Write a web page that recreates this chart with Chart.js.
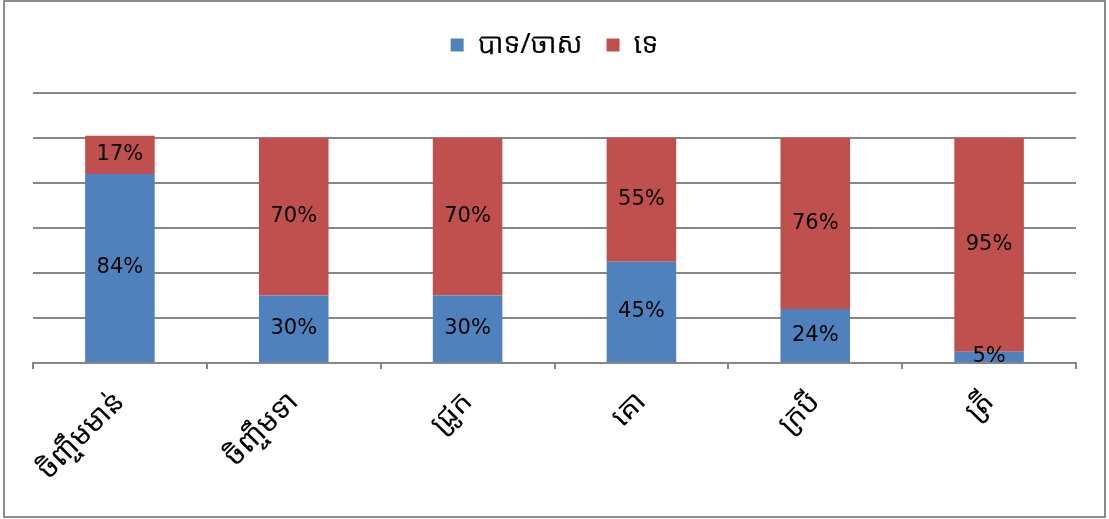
<!DOCTYPE html>
<html>
<head>
<meta charset="utf-8">
<script src="https://cdn.jsdelivr.net/npm/chart.js@4"></script>
<style>
  html, body { margin: 0; padding: 0; background: #ffffff; }
  #wrap { width: 1109px; height: 519px; position: relative; }
</style>
</head>
<body>
<div id="wrap"><canvas id="chart" width="1109" height="519"></canvas></div>
<script>
// Livestock categories (Khmer)
const categories = ['ចិញ្ចឹមមាន់', 'ចិញ្ចឹមទា', 'ជ្រូក', 'គោ', 'ក្របី', 'ត្រី'];
// Share of answers, percent
const yesValues = [84, 30, 30, 45, 24, 5];
const noValues = [17, 70, 70, 55, 76, 95];
const seriesNames = ['បាទ/ចាស', 'ទេ'];
const yTicks = [0, 20, 40, 60, 80, 100, 120];

const KHMER_FONT = '"Khmer OS", "Khmer OS System", "Noto Sans Khmer", "Khmer UI", "Noto Sans", "DejaVu Sans", sans-serif';
const GRID = '#868686';
const LEGEND_GAP = 24;

// Percent labels centred in each bar segment
const segmentLabels = {
  id: 'segmentLabels',
  afterDatasetsDraw(chart) {
    const ctx = chart.ctx;
    ctx.save();
    ctx.font = '21px "DejaVu Sans", sans-serif';
    ctx.fillStyle = '#000000';
    ctx.textAlign = 'center';
    ctx.textBaseline = 'middle';
    chart.data.datasets.forEach((ds, di) => {
      const meta = chart.getDatasetMeta(di);
      meta.data.forEach((bar, i) => {
        const p = bar.getProps(['x', 'y', 'base'], true);
        ctx.fillText(ds.data[i] + '%', p.x, (p.y + p.base) / 2);
      });
    });
    ctx.restore();
  }
};

// Extra space between the legend row and the plot area
const legendGap = {
  id: 'legendGap',
  beforeLayout(chart) {
    const lg = chart.legend;
    if (lg && !lg._gapAdded) {
      const fit = lg.fit.bind(lg);
      lg.fit = function () { fit(); this.height += LEGEND_GAP; };
      lg._gapAdded = true;
    }
  }
};

// Grey frame round the whole chart
const frame = {
  id: 'frame',
  afterDraw(chart) {
    const ctx = chart.ctx;
    ctx.save();
    ctx.strokeStyle = '#8c8c8c';
    ctx.lineWidth = 2;
    ctx.strokeRect(4, 1, 1101, 516);
    ctx.restore();
  }
};

new Chart(document.getElementById('chart'), {
  type: 'bar',
  data: {
    labels: categories,
    datasets: [
      { label: seriesNames[0], data: yesValues, backgroundColor: '#4F81BD', categoryPercentage: 1, barPercentage: 0.4 },
      { label: seriesNames[1], data: noValues, backgroundColor: '#C0504D', categoryPercentage: 1, barPercentage: 0.4 }
    ]
  },
  options: {
    responsive: false,
    animation: false,
    layout: { padding: { left: 33, right: 33, top: 7, bottom: 0 } },
    plugins: {
      legend: {
        position: 'top',
        labels: {
          boxWidth: 13,
          boxHeight: 13,
          padding: 24,
          color: '#000000',
          font: { family: KHMER_FONT, size: 28 }
        }
      },
      tooltip: { enabled: false }
    },
    scales: {
      x: {
        stacked: true,
        offset: true,
        border: { display: true, color: GRID, width: 2 },
        grid: { display: true, offset: true, drawOnChartArea: false, drawTicks: true, tickLength: 6, color: GRID, lineWidth: 2 },
        ticks: { minRotation: 45, maxRotation: 45, color: '#000000', font: { family: KHMER_FONT, size: 29 }, padding: 16 },
        afterFit(scale) { scale.height = 156; }
      },
      y: {
        stacked: true,
        min: 0,
        max: 120,
        afterBuildTicks(scale) { scale.ticks = yTicks.map(v => ({ value: v })); },
        border: { display: false },
        grid: { color: GRID, lineWidth: 2, drawTicks: false },
        ticks: { display: false },
        afterFit(scale) { scale.width = 0; }
      }
    }
  },
  plugins: [segmentLabels, legendGap, frame]
});
</script>
</body>
</html>
